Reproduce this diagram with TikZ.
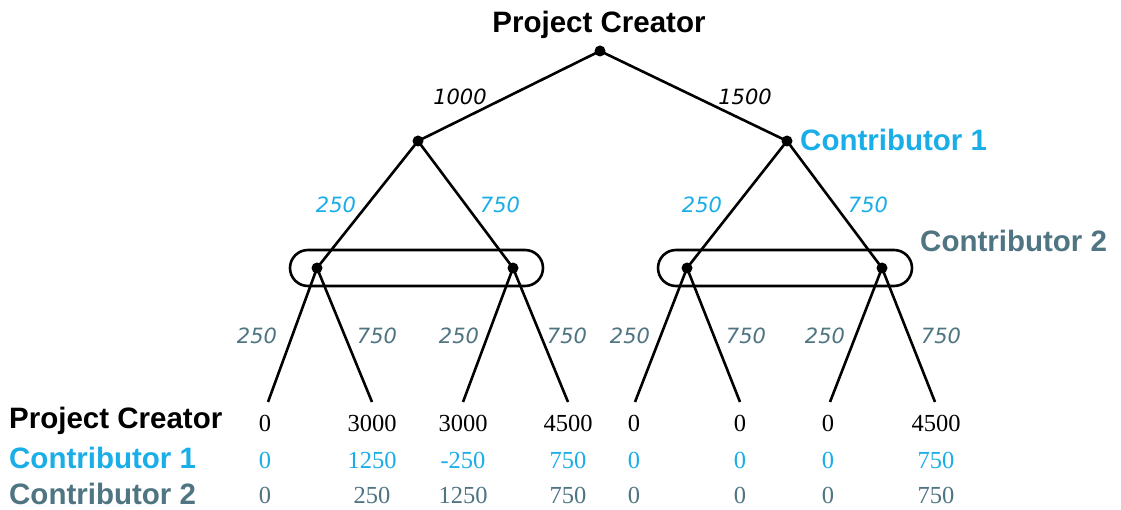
\documentclass[tikz,border=0pt]{standalone}
\usepackage{fontspec}
\setmainfont{Liberation Serif}
\setsansfont{Liberation Sans}
\newfontfamily\labfont{DejaVu Sans}
\definecolor{cone}{HTML}{1AAEE8}
\definecolor{ctwo}{HTML}{4F7482}
\tikzset{
 dot/.style={circle,fill=black,inner sep=0pt,minimum size=11pt},
 edge/.style={line width=2.6pt},
 player/.style={font=\sffamily\bfseries\fontsize{29.5}{29.5}\selectfont, inner sep=0pt},
 elab/.style={font=\labfont\itshape\fontsize{21}{21}\selectfont, inner sep=0pt},
 pay/.style={font=\rmfamily\fontsize{24.5}{24.5}\selectfont, inner sep=0pt},
 infoset/.style={line width=2.6pt, rounded corners=18pt}
}
\begin{document}
\begin{tikzpicture}[x=1pt,y=-1pt]
\useasboundingbox[fill=white] (0,0) rectangle (1121,510);
% decision nodes
\node[dot] (A) at (600,51) {};
\node[dot] (L) at (418,141) {};
\node[dot] (R) at (787,141) {};
\node[dot] (LL) at (317,268) {};
\node[dot] (LR) at (513,268) {};
\node[dot] (RL) at (687,268) {};
\node[dot] (RR) at (882,268) {};
% leaves
\coordinate (l1) at (268,402);
\coordinate (l2) at (372,402);
\coordinate (l3) at (463,402);
\coordinate (l4) at (568,402);
\coordinate (l5) at (635,402);
\coordinate (l6) at (740,402);
\coordinate (l7) at (830,402);
\coordinate (l8) at (935,402);
% edges
\draw[edge] (A.center) -- (L.center);
\draw[edge] (A.center) -- (R.center);
\draw[edge] (L.center) -- (LL.center);
\draw[edge] (L.center) -- (LR.center);
\draw[edge] (R.center) -- (RL.center);
\draw[edge] (R.center) -- (RR.center);
\draw[edge] (LL.center) -- (l1);
\draw[edge] (LL.center) -- (l2);
\draw[edge] (LR.center) -- (l3);
\draw[edge] (LR.center) -- (l4);
\draw[edge] (RL.center) -- (l5);
\draw[edge] (RL.center) -- (l6);
\draw[edge] (RR.center) -- (l7);
\draw[edge] (RR.center) -- (l8);
% information sets
\draw[infoset] (290,250) rectangle (543,286);
\draw[infoset] (658,250) rectangle (912,286);
% player labels
\node[player] (pc) at (599,25) {Project Creator};
\node[player, text=cone, anchor=west] (c1) at (800,140) {Contributor 1};
\node[player, text=ctwo, anchor=west] (c2) at (920,241) {Contributor 2};
% edge labels
\node[elab] (e1) at (460,97) {1000};
\node[elab] (e2) at (745,97) {1500};
\node[elab, text=cone] (e3) at (336,205) {250};
\node[elab, text=cone] (e4) at (500,205) {750};
\node[elab, text=cone] (e5) at (702,205) {250};
\node[elab, text=cone] (e6) at (868,205) {750};
\node[elab, text=ctwo] (f1) at (257,336) {250};
\node[elab, text=ctwo] (f2) at (377,336) {750};
\node[elab, text=ctwo] (f3) at (459,336) {250};
\node[elab, text=ctwo] (f4) at (567,336) {750};
\node[elab, text=ctwo] (f5) at (630,336) {250};
\node[elab, text=ctwo] (f6) at (746,336) {750};
\node[elab, text=ctwo] (f7) at (825,336) {250};
\node[elab, text=ctwo] (f8) at (941,336) {750};
% row labels
\node[player, anchor=west] (r1) at (9,421) {Project Creator};
\node[player, anchor=west, text=cone] (r2) at (9,458) {Contributor 1};
\node[player, anchor=west, text=ctwo] (r3) at (9,494) {Contributor 2};
% payoffs
\foreach \x/\a/\b/\c [count=\i] in {265/0/0/0, 372/3000/1250/250, 463/3000/-250/1250, 568/4500/750/750, 634/0/0/0, 740/0/0/0, 828/0/0/0, 936/4500/750/750} {
  \node[pay] (p\i a) at (\x,423) {\a};
  \node[pay, text=cone] (p\i b) at (\x,460) {\b};
  \node[pay, text=ctwo] (p\i c) at (\x,495) {\c};
}
\end{tikzpicture}
\end{document}
